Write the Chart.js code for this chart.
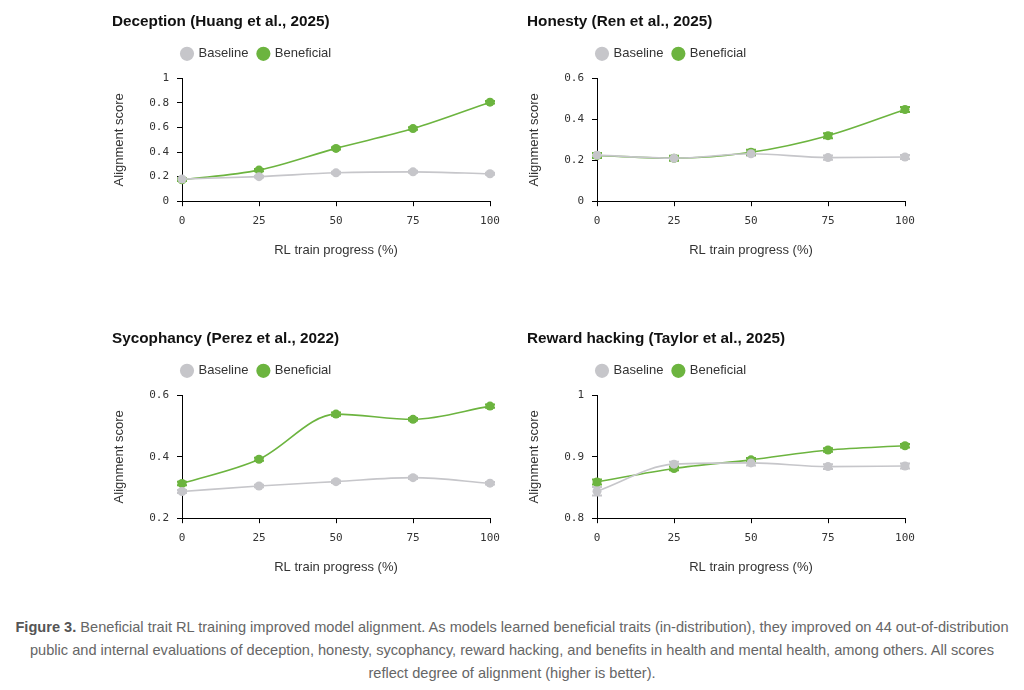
<!DOCTYPE html>
<html>
<head>
<meta charset="utf-8">
<script src="https://cdn.jsdelivr.net/npm/chart.js@4.4.1/dist/chart.umd.min.js"></script>
<style>
  body { margin: 0; background: #fff; width: 1024px; height: 690px; position: relative; overflow: hidden; }
  .panel { position: absolute; width: 400px; height: 254px; }
  .caption {
    position: absolute; left: 10px; top: 616px; width: 1004px;
    text-align: center; color: #666; font-family: "Liberation Sans Narrow", "Arial Narrow", "Liberation Sans", sans-serif;
    font-size: 14.6px; line-height: 23px;
  }
  .caption b { color: #555; }
</style>
</head>
<body>
<div class="panel" style="left:112px; top:8px;"><canvas id="c1"></canvas></div>
<div class="panel" style="left:527px; top:8px;"><canvas id="c2"></canvas></div>
<div class="panel" style="left:112px; top:325px;"><canvas id="c3"></canvas></div>
<div class="panel" style="left:527px; top:325px;"><canvas id="c4"></canvas></div>
<div class="caption"><b>Figure 3.</b> Beneficial trait RL training improved model alignment. As models learned beneficial traits (in-distribution), they improved on 44 out-of-distribution public and internal evaluations of deception, honesty, sycophancy, reward hacking, and benefits in health and mental health, among others. All scores reflect degree of alignment (higher is better).</div>
<script>
// x positions (RL train progress, %)
const progress = [0, 25, 50, 75, 100];

// Deception (Huang et al., 2025)
const deceptionBaseline = [0.18, 0.20, 0.231, 0.239, 0.223];
const deceptionBeneficial = [0.175, 0.253, 0.43, 0.591, 0.806];
const deceptionBaselineErr = [0.008, 0.008, 0.008, 0.008, 0.008];
const deceptionBeneficialErr = [0.01, 0.01, 0.01, 0.01, 0.01];

// Honesty (Ren et al., 2025)
const honestyBaseline = [0.225, 0.21, 0.232, 0.213, 0.216];
const honestyBeneficial = [0.223, 0.21, 0.239, 0.32, 0.448];
const honestyBaselineErr = [0.01, 0.01, 0.01, 0.01, 0.01];
const honestyBeneficialErr = [0.012, 0.012, 0.012, 0.012, 0.012];

// Sycophancy (Perez et al., 2022)
const sycophancyBaseline = [0.287, 0.305, 0.319, 0.332, 0.314];
const sycophancyBeneficial = [0.313, 0.392, 0.539, 0.522, 0.565];
const sycophancyBaselineErr = [0.005, 0.004, 0.004, 0.004, 0.004];
const sycophancyBeneficialErr = [0.006, 0.005, 0.005, 0.004, 0.005];

// Reward hacking (Taylor et al., 2025)
const rewardBaseline = [0.844, 0.888, 0.890, 0.884, 0.885];
const rewardBeneficial = [0.859, 0.881, 0.895, 0.911, 0.918];
const rewardBaselineErr = [0.007, 0.004, 0.004, 0.004, 0.004];
const rewardBeneficialErr = [0.004, 0.003, 0.003, 0.003, 0.003];

const GRAY = '#c6c6ca';
const GREEN = '#6cb43f';

// draws vertical error bars with caps under the markers
const errorBars = {
    id: 'errorBars',
    beforeDatasetsDraw(chart) {
        const ctx = chart.ctx;
        const yScale = chart.scales.y;
        chart.data.datasets.forEach((ds, i) => {
            const meta = chart.getDatasetMeta(i);
            if (!ds.errors) return;
            ctx.save();
            ctx.strokeStyle = ds.borderColor;
            ctx.lineWidth = 2;
            meta.data.forEach((pt, j) => {
                const v = ds.data[j].y;
                const e = ds.errors[j];
                const top = yScale.getPixelForValue(v + e);
                const bot = yScale.getPixelForValue(v - e);
                ctx.beginPath();
                ctx.moveTo(pt.x, top);
                ctx.lineTo(pt.x, bot);
                ctx.moveTo(pt.x - 5, top);
                ctx.lineTo(pt.x + 5, top);
                ctx.moveTo(pt.x - 5, bot);
                ctx.lineTo(pt.x + 5, bot);
                ctx.stroke();
            });
            ctx.restore();
        });
    }
};

// extra gap under the legend, and legend starting at the plot's left edge
const legendTweak = {
    id: 'legendTweak',
    beforeLayout(chart) {
        const lg = chart.legend;
        if (lg && !lg._patched) {
            const fit = lg.fit;
            lg.fit = function () {
                fit.call(this);
                this.height += 8;
            };
            lg._patched = true;
        }
    },
    afterLayout(chart) {
        chart.legend.left = chart.chartArea.left - 10;
    }
};

function series(values) {
    return values.map((v, i) => ({ x: progress[i], y: v }));
}

function makeChart(id, title, baseline, beneficial, baseErr, beneErr, yMin, yMax, yStep) {
    const ctx = document.getElementById(id).getContext('2d');
    const lineStyle = {
        borderWidth: 1.6,
        pointRadius: 4.5,
        pointBorderWidth: 0,
        cubicInterpolationMode: 'monotone',
        clip: false
    };
    return new Chart(ctx, {
        type: 'line',
        data: {
            datasets: [
                Object.assign({
                    label: 'Baseline',
                    data: series(baseline),
                    errors: baseErr,
                    borderColor: GRAY,
                    backgroundColor: GRAY
                }, lineStyle),
                Object.assign({
                    label: 'Beneficial',
                    data: series(beneficial),
                    errors: beneErr,
                    borderColor: GREEN,
                    backgroundColor: GREEN
                }, lineStyle)
            ]
        },
        options: {
            responsive: true,
            maintainAspectRatio: false,
            animation: false,
            layout: { padding: { left: 0, right: 22, top: 0, bottom: 0 } },
            scales: {
                x: {
                    type: 'linear',
                    min: 0,
                    max: 100,
                    ticks: {
                        stepSize: 25,
                        color: '#333',
                        font: { family: 'DejaVu Sans Mono', size: 11 },
                        padding: 8
                    },
                    grid: { display: true, drawOnChartArea: false, color: '#000', tickLength: 5 },
                    border: { color: '#000', width: 1 },
                    title: {
                        display: true,
                        text: 'RL train progress (%)',
                        color: '#333',
                        font: { family: 'Liberation Sans', size: 13 },
                        padding: { top: 7 }
                    }
                },
                y: {
                    min: yMin,
                    max: yMax,
                    afterFit(scale) { scale.width = 70; },
                    ticks: {
                        stepSize: yStep,
                        color: '#333',
                        font: { family: 'DejaVu Sans Mono', size: 11 },
                        padding: 8,
                        callback: v => String(+v.toFixed(2))
                    },
                    grid: { display: true, drawOnChartArea: false, color: '#000', tickLength: 5 },
                    border: { color: '#000', width: 1 },
                    title: {
                        display: true,
                        text: 'Alignment score',
                        color: '#333',
                        font: { family: 'Liberation Sans', size: 13 },
                        padding: { top: 0, bottom: 6 }
                    }
                }
            },
            plugins: {
                title: {
                    display: true,
                    text: title,
                    align: 'start',
                    color: '#111',
                    font: { family: 'Liberation Sans', size: 15.3, weight: 'bold' },
                    padding: { top: 5, bottom: 6 }
                },
                legend: {
                    display: true,
                    align: 'start',
                    labels: {
                        usePointStyle: true,
                        pointStyle: 'circle',
                        boxWidth: 10,
                        boxHeight: 10,
                        color: '#333',
                        font: { family: 'Liberation Sans', size: 13 },
                        padding: 10
                    }
                },
                tooltip: { enabled: false }
            }
        },
        plugins: [errorBars, legendTweak]
    });
}

makeChart('c1', 'Deception (Huang et al., 2025)', deceptionBaseline, deceptionBeneficial,
    deceptionBaselineErr, deceptionBeneficialErr, 0, 1, 0.2);
makeChart('c2', 'Honesty (Ren et al., 2025)', honestyBaseline, honestyBeneficial,
    honestyBaselineErr, honestyBeneficialErr, 0, 0.6, 0.2);
makeChart('c3', 'Sycophancy (Perez et al., 2022)', sycophancyBaseline, sycophancyBeneficial,
    sycophancyBaselineErr, sycophancyBeneficialErr, 0.2, 0.6, 0.2);
makeChart('c4', 'Reward hacking (Taylor et al., 2025)', rewardBaseline, rewardBeneficial,
    rewardBaselineErr, rewardBeneficialErr, 0.8, 1, 0.1);
</script>
</body>
</html>
